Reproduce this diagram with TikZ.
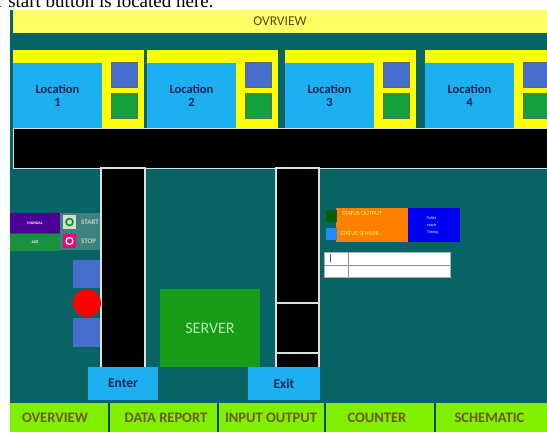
\documentclass[tikz,border=0pt]{standalone}
\usepackage{fontspec}
\setmainfont{Liberation Serif}
\setsansfont{Carlito}

\definecolor{panel}{RGB}{8,100,100}
\definecolor{titlebar}{RGB}{255,255,100}
\definecolor{locyellow}{RGB}{255,255,0}
\definecolor{locblue}{RGB}{30,175,240}
\definecolor{sqblue}{RGB}{72,110,205}
\definecolor{sqgreen}{RGB}{20,160,60}
\definecolor{navy}{RGB}{20,35,90}
\definecolor{olive}{RGB}{80,75,10}
\definecolor{lime}{RGB}{128,240,0}
\definecolor{navtext}{RGB}{110,90,0}
\definecolor{manual}{RGB}{75,0,150}
\definecolor{ack}{RGB}{25,145,65}
\definecolor{knob}{RGB}{60,130,125}
\definecolor{server}{RGB}{25,155,25}
\definecolor{servertext}{RGB}{175,240,160}
\definecolor{statusor}{RGB}{255,128,0}
\definecolor{statusgreen}{RGB}{0,95,0}
\definecolor{statusblue}{RGB}{30,140,255}
\definecolor{timing}{RGB}{0,0,240}
\definecolor{edge}{RGB}{215,225,225}

\tikzset{
  box/.style={anchor=north west, inner sep=0pt, outer sep=0pt},
  locbox/.style={box, fill=locblue, minimum width=89pt, minimum height=65pt,
    align=center, text=navy, font=\sffamily\bfseries\fontsize{12.5}{13}\selectfont},
  sqbox/.style={box, minimum width=26pt, minimum height=25pt, draw=black!60, line width=0.6pt},
  gatebox/.style={box, fill=locblue, minimum width=70pt, minimum height=33pt,
    text=navy, font=\sffamily\bfseries\fontsize{13.5}{13}\selectfont},
  navlabel/.style={text=navtext, font=\sffamily\bfseries\fontsize{14.5}{14}\selectfont},
  lane/.style={fill=black, draw=edge, line width=1.2pt}
}

\begin{document}
\begin{tikzpicture}[x=1pt, y=-1pt]
\useasboundingbox (0,0) rectangle (547,432);
\begin{scope}
\clip (0,0) rectangle (547,432);
\node[anchor=base west, inner sep=0pt, font=\rmfamily\fontsize{19}{20}\selectfont] (note) at (-3,7) {r start button is located here.};
\fill[panel] (10,10) rectangle (547,432);
\node[box, fill=titlebar, minimum width=534pt, minimum height=23pt,
  text=olive, font=\sffamily\fontsize{13.5}{13}\selectfont] (title) at (13,10) {OVRVIEW};

\foreach \n/\x in {1/13, 2/147, 3/285, 4/425}{
  \fill[locyellow] (\x,50) rectangle +(131,78);
  \node[locbox] (loc\n) at (\x,63) {Location\\\n};
  \node[sqbox, fill=sqblue] (in\n) at (\x+98,62) {};
  \node[sqbox, fill=sqgreen] (out\n) at (\x+98,93) {};
}
\draw[edge, line width=1pt, fill=black] (13,128) rectangle (548,168);

\draw[lane] (101,168) rectangle (145,368);
\draw[lane] (276,168) rectangle (319,368);
\draw[edge, line width=1.2pt] (276,303) -- (319,303) (276,353) -- (319,353);

\node[box, fill=manual, minimum width=50pt, minimum height=20pt, text=white,
  font=\sffamily\bfseries\fontsize{4}{4}\selectfont] (manual) at (10,213) {MANUAL};
\node[box, fill=ack, minimum width=50pt, minimum height=17pt, text=white,
  font=\sffamily\bfseries\fontsize{4}{4}\selectfont] (ack) at (10,234) {ACK};
\fill[knob] (60,213) rectangle (100,250);
\node[box, fill=black!15, minimum width=13pt, minimum height=14pt] (startbtn) at (63,215) {};
\draw[green!60!black, line width=1.5pt] (startbtn.center) circle (3.5pt);
\node[box, fill=magenta!80!red, minimum width=13pt, minimum height=14pt] (stopbtn) at (63,234) {};
\draw[white, line width=1.3pt] (stopbtn.center) circle (3.5pt);
\node[anchor=west, inner sep=0pt, text=black!20, font=\sffamily\bfseries\fontsize{7}{7}\selectfont] (start) at (81,222) {START};
\node[anchor=west, inner sep=0pt, text=black!20, font=\sffamily\bfseries\fontsize{7}{7}\selectfont] (stop) at (81,241) {STOP};

\node[box, fill=sqblue, minimum width=27pt, minimum height=28pt] (sensa) at (73,260) {};
\fill[red] (87,303) circle (14pt);
\node[box, fill=sqblue, minimum width=27pt, minimum height=29pt] (sensb) at (73,318) {};

\node[box, fill=server, minimum width=100pt, minimum height=78pt, text=servertext,
  font=\sffamily\fontsize{16}{16}\selectfont] (server) at (160,289) {SERVER};

\node[gatebox, minimum width=70pt] (enter) at (88,367) {Enter};
\node[gatebox, minimum width=72pt] (exit) at (248,367) {Exit};

\node[box, fill=statusor, minimum width=72pt, minimum height=34pt] (status) at (336,208) {};
\node[box, fill=statusgreen, minimum width=11pt, minimum height=12pt] (outled) at (326,210) {};
\node[box, fill=statusblue, minimum width=11pt, minimum height=12pt] (senled) at (326,228) {};
\node[anchor=west, inner sep=0pt, text=yellow!60, font=\sffamily\fontsize{6}{6}\selectfont] (outtxt) at (342,214) {STATUS OUTPUT};
\node[anchor=west, inner sep=0pt, text=yellow!60, font=\sffamily\fontsize{6}{6}\selectfont] (sentxt) at (340,234) {STATUS SENSOR};
\node[box, fill=timing, minimum width=52pt, minimum height=34pt] (pallet) at (408,208) {};
\node[anchor=west, align=left, inner sep=0pt, text=white, font=\sffamily\fontsize{4}{7}\selectfont] (pallettxt) at (427,225) {Pallet\\reach\\Timing};

\draw[fill=white, draw=black!30, line width=1pt] (324,252) rectangle (450,277);
\draw[black!45, line width=0.8pt] (324,265) -- (450,265) (348,252) -- (348,277);
\draw[black!70, line width=0.5pt] (330,254) -- (330,262);

\fill[lime] (10,403) rectangle (547,432);
\foreach \d in {109, 218, 325, 435}{
  \draw[panel!80!black, line width=1.2pt] (\d,403) -- (\d,432);
}
\node[navlabel] (nav1) at (55,418) {OVERVIEW};
\node[navlabel] (nav2) at (166,418) {DATA REPORT};
\node[navlabel] (nav3) at (271,418) {INPUT OUTPUT};
\node[navlabel] (nav4) at (377,418) {COUNTER};
\node[navlabel, anchor=west] (nav5) at (451,418) {SCHEMATIC};
\end{scope}
\end{tikzpicture}
\end{document}
